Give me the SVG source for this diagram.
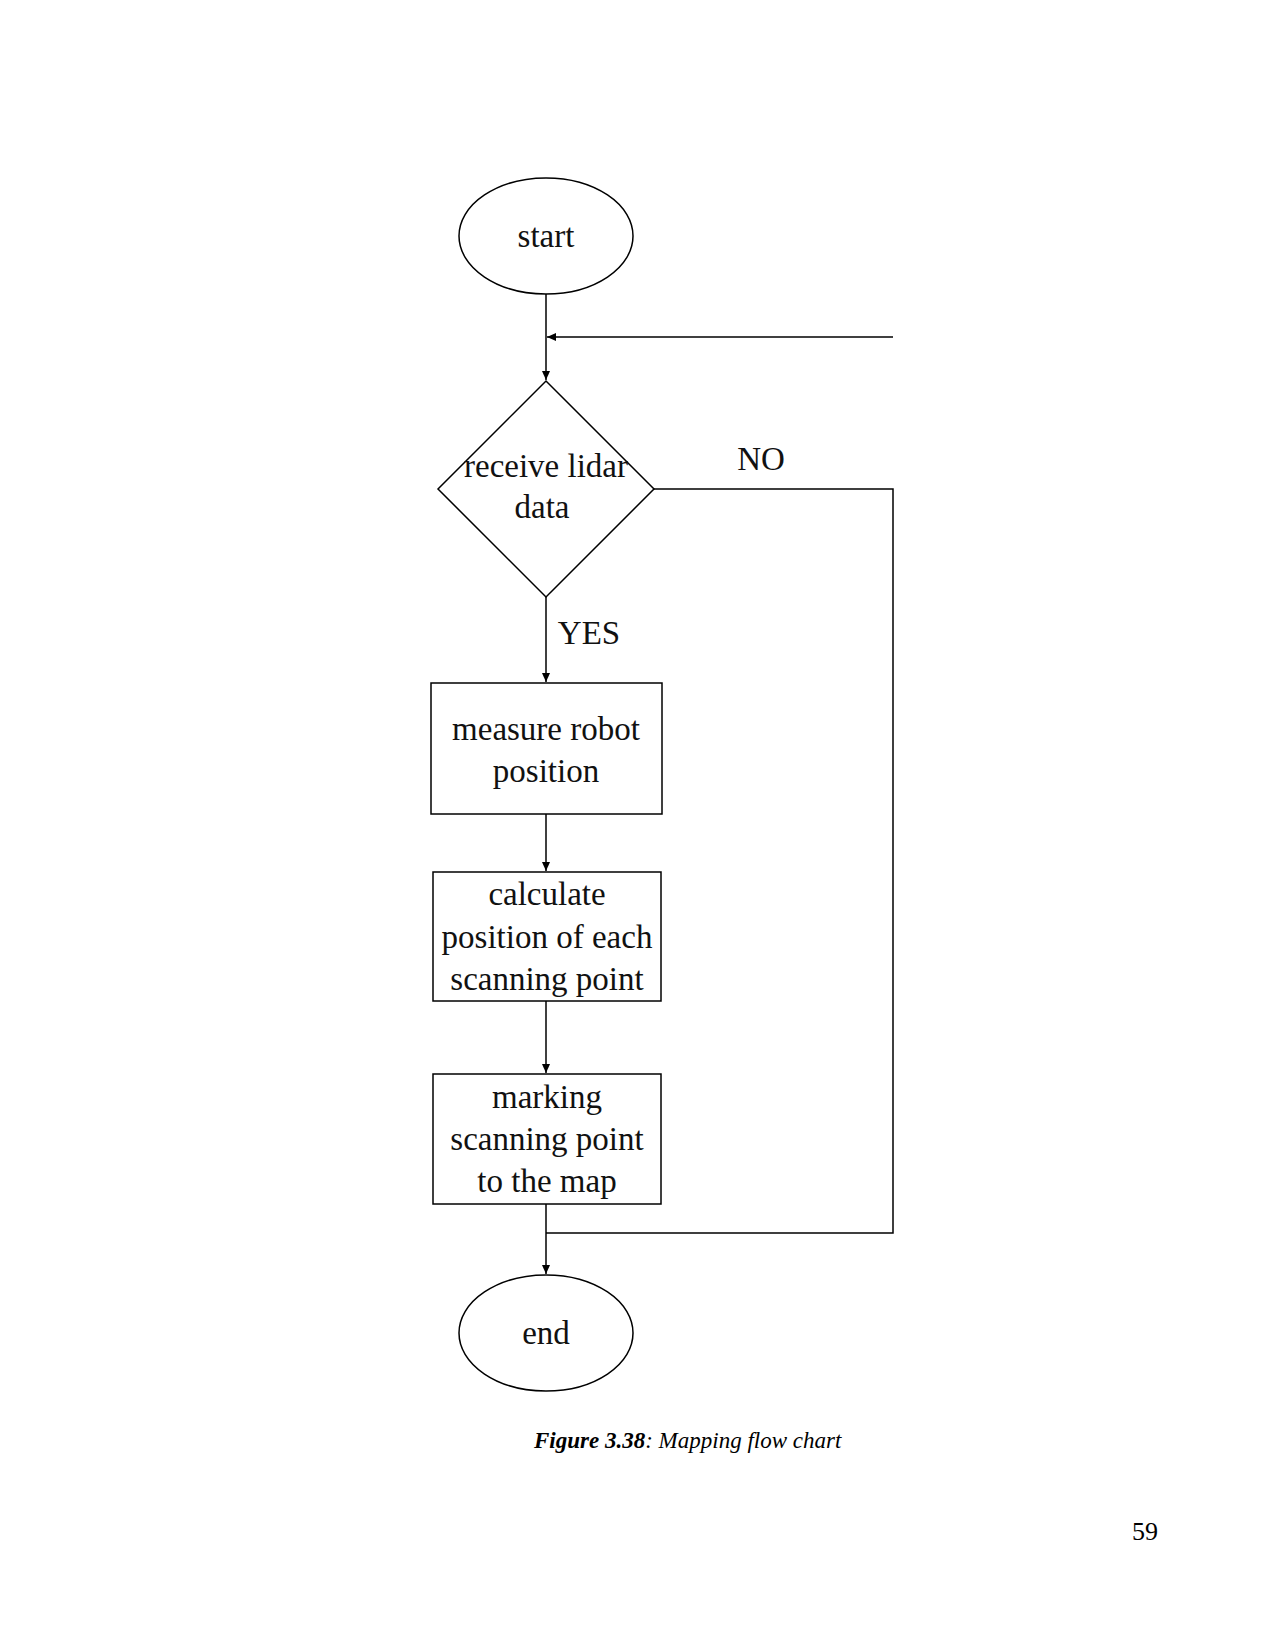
<svg xmlns="http://www.w3.org/2000/svg" width="1275" height="1650" viewBox="0 0 1275 1650">
<defs>
<marker id="ah" markerWidth="10" markerHeight="10" refX="9" refY="5" orient="auto" markerUnits="userSpaceOnUse"><path d="M0,1 L9,5 L0,9 Z" fill="#000"/></marker>
<style>
.s{fill:#fff;stroke:#000;stroke-width:1.5}
.t{font-family:"Liberation Serif",serif;font-size:33px;text-anchor:middle;fill:#111}
.c{fill:none;stroke:#000;stroke-width:1.5}
</style>
</defs>
<rect width="1275" height="1650" fill="#fff"/>
<g id="connectors">
<path class="c" d="M546,294 V380" marker-end="url(#ah)"/>
<path class="c" d="M893,337 H547" marker-end="url(#ah)"/>
<path class="c" d="M654,489 H893 V1233 H546"/>
<path class="c" d="M546,597 V682" marker-end="url(#ah)"/>
<path class="c" d="M546,814 V871" marker-end="url(#ah)"/>
<path class="c" d="M546,1001 V1073" marker-end="url(#ah)"/>
<path class="c" d="M546,1204 V1274" marker-end="url(#ah)"/>
<text class="t" x="761" y="470">NO</text>
<text class="t" x="589" y="644">YES</text>
</g>
<g id="start"><ellipse class="s" cx="546" cy="236" rx="87" ry="58"/><text class="t" x="546" y="247">start</text></g>
<g id="decision"><polygon class="s" points="546,381 654,489 546,597 438,489"/><text class="t" x="546" y="477">receive lidar</text><text class="t" x="542" y="518">data</text></g>
<g id="measure"><rect class="s" x="431" y="683" width="231" height="131"/><text class="t" x="546" y="740">measure robot</text><text class="t" x="546" y="782">position</text></g>
<g id="calc"><rect class="s" x="433" y="872" width="228" height="129"/><text class="t" x="547" y="905">calculate</text><text class="t" x="547" y="948">position of each</text><text class="t" x="547" y="990">scanning point</text></g>
<g id="mark"><rect class="s" x="433" y="1074" width="228" height="130"/><text class="t" x="547" y="1108">marking</text><text class="t" x="547" y="1150">scanning point</text><text class="t" x="547" y="1192">to the map</text></g>
<g id="end"><ellipse class="s" cx="546" cy="1333" rx="87" ry="58"/><text class="t" x="546" y="1344">end</text></g>
<text x="534" y="1448" font-family="Liberation Serif,serif" font-size="23" font-style="italic"><tspan font-weight="bold">Figure 3.38</tspan>:  Mapping flow chart</text>
<text x="1132" y="1540" font-family="Liberation Serif,serif" font-size="26">59</text>
</svg>
